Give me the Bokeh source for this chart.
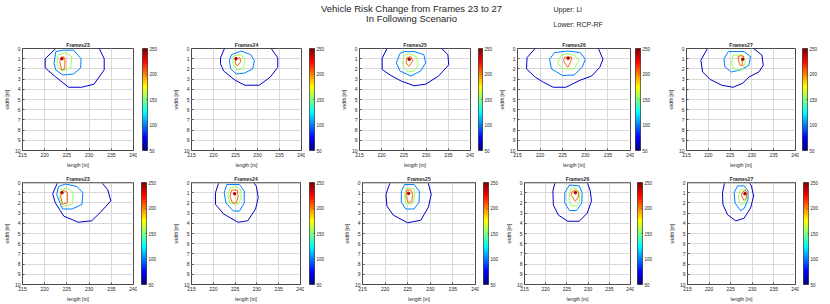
import numpy as np
from bokeh.plotting import figure
from bokeh.layouts import column, row
from bokeh.models import (ColumnDataSource, LinearColorMapper, FixedTicker,
                          Range1d, Label, Span)
from bokeh.transform import linear_cmap
from bokeh.embed import file_html
from bokeh.resources import INLINE

FONT = "Liberation Sans"

# ---------------- data ----------------
TITLE_LINES = ["Vehicle Risk Change from Frames 23 to 27", "In Following Scenario"]
NOTE_LINES = ["Upper: Li", "Lower: RCP-RF"]
FRAME_NAMES = ["Frames23", "Frames24", "Frames25", "Frames26", "Frames27"]
X_TICKS = [215, 220, 225, 230, 235, 240]
Y_TICKS = [0, 1, 2, 3, 4, 5, 6, 7, 8, 9, 10]
CBAR_TICKS = [50, 100, 150, 200, 250]
CBAR_LOW, CBAR_HIGH = 50, 250
LEVELS = [65, 100, 155, 205]     # outer (dark blue), light blue, green, orange
PEAK_LEVEL = 240

# Upper row (Li): contour vertices [length], [width] per level, and peak point
LI_23 = [([222.5, 220.1, 220.1, 222.5, 225.4, 228.3, 231.1, 233.4, 233.4, 232.3],
          [0, 1.0, 1.9, 2.8, 3.8, 3.8, 3.5, 2.1, 1.0, 0]),
         ([222.5, 222.1, 222.5, 224.1, 226.5, 228.1, 228.2, 226.5, 224.3, 222.5],
          [0.3, 1.45, 2.1, 2.6, 2.5, 1.9, 1.0, 0.16, 0.16, 0.3]),
         ([223.0, 222.8, 223.9, 225.9, 226.1, 224.6, 223.0],
          [0.65, 1.6, 2.2, 1.9, 0.8, 0.4, 0.65]),
         ([223.6, 223.4, 223.8, 224.5, 224.6, 224.3, 223.6],
          [0.9, 1.3, 2.1, 2.0, 1.1, 0.8, 0.9])]
LI_23_PEAK = (223.9, 1.0)

LI_24 = [([222.5, 221.6, 221.6, 222.3, 224.9, 227.1, 230.4, 232.9, 234.6, 234.6, 233.1],
          [0, 0.9, 1.5, 2.2, 3.1, 3.6, 3.6, 2.8, 1.85, 0.9, 0]),
         ([224.1, 223.6, 223.9, 225.2, 227.1, 228.9, 229.3, 228.5, 226.3, 224.1],
          [0.6, 1.2, 2.0, 2.5, 2.4, 2.0, 1.2, 0.6, 0.25, 0.6]),
         ([224.6, 224.4, 225.2, 226.7, 227.2, 226.3, 224.6],
          [0.7, 1.45, 2.1, 2.0, 1.2, 0.6, 0.7]),
         ([225.1, 224.9, 225.4, 226.2, 226.0, 225.1],
          [1.0, 1.4, 1.7, 1.3, 0.9, 1.0])]
LI_24_PEAK = (225.1, 1.0)

LI_25 = [([221.2, 220.1, 220.1, 221.9, 224.4, 227.3, 229.9, 232.8, 235.1, 234.9, 233.5],
          [0, 0.95, 2.06, 2.6, 3.2, 3.65, 3.5, 2.7, 1.6, 0.6, 0]),
         ([224.1, 223.3, 224.1, 226.6, 228.8, 229.9, 229.5, 227.3, 225.1, 224.1],
          [0.5, 1.4, 2.2, 2.7, 2.2, 1.4, 0.6, 0.3, 0.3, 0.5]),
         ([225.0, 224.7, 225.9, 227.3, 228.3, 227.8, 226.2, 225.0],
          [0.7, 1.6, 2.3, 2.2, 1.6, 0.8, 0.5, 0.7]),
         ([225.7, 225.5, 226.1, 227.0, 226.6, 225.7],
          [0.9, 1.4, 1.75, 1.25, 0.8, 0.9])]
LI_25_PEAK = (226.2, 1.05)

LI_26 = [([218.9, 217.1, 217.0, 218.9, 220.7, 222.9, 225.7, 228.9, 231.4, 233.2, 233.9, 232.9],
          [0, 0.9, 2.0, 2.8, 3.3, 3.8, 3.8, 3.1, 2.7, 1.85, 1.05, 0]),
         ([223.2, 222.1, 222.5, 225.0, 227.5, 229.3, 230.0, 228.9, 226.1, 223.2],
          [0.4, 1.05, 2.0, 2.65, 2.6, 1.85, 1.05, 0.4, 0.25, 0.4]),
         ([224.6, 223.9, 225.0, 227.5, 228.6, 227.7, 226.1, 224.6],
          [0.7, 1.4, 2.0, 2.0, 1.2, 0.7, 0.5, 0.7]),
         ([225.4, 225.2, 226.1, 226.8, 227.0, 225.4],
          [0.85, 1.25, 1.85, 1.3, 0.85, 0.85])]
LI_26_PEAK = (226.2, 0.95)

LI_27 = [([219.8, 218.3, 218.7, 220.5, 223.1, 225.7, 227.9, 229.3, 231.6, 232.6, 232.3, 230.4],
          [0, 1.15, 2.3, 3.05, 3.6, 3.8, 3.4, 2.8, 2.3, 1.65, 0.65, 0]),
         ([224.6, 223.6, 223.8, 225.3, 227.5, 229.3, 229.7, 228.2, 224.6],
          [0.3, 1.0, 1.8, 2.3, 2.1, 1.65, 0.8, 0.3, 0.3]),
         ([225.7, 225.3, 226.0, 227.9, 228.5, 227.9, 225.7],
          [0.65, 1.5, 2.1, 2.1, 1.3, 0.65, 0.65]),
         ([226.8, 227.0, 227.3, 227.9, 227.7, 228.2, 227.5, 226.8],
          [0.8, 1.3, 1.65, 1.65, 1.15, 0.8, 0.7, 0.8])]
LI_27_PEAK = (227.9, 1.05)

# Lower row (RCP-RF)
RCP_23 = [([222.9, 221.8, 222.4, 224.3, 227.6, 230.6, 232.5, 234.9, 234.2, 232.8],
           [0, 1.1, 2.0, 3.3, 3.9, 3.75, 2.95, 1.8, 0.7, 0]),
          ([223.1, 222.7, 224.0, 226.2, 228.4, 228.6, 227.3, 224.7, 223.1],
           [0.4, 1.2, 2.6, 2.6, 2.15, 1.0, 0.4, 0.15, 0.4]),
          ([223.6, 223.4, 224.0, 226.3, 226.4, 225.1, 223.6],
           [0.7, 1.5, 2.4, 2.1, 0.95, 0.55, 0.7]),
          ([223.8, 223.6, 224.0, 225.1, 225.1, 224.4, 223.8],
           [0.85, 1.35, 2.15, 2.0, 1.0, 0.8, 0.85])]
RCP_23_PEAK = (223.9, 1.0)

RCP_24 = [([221.25, 220.5, 220.5, 222.4, 225.7, 227.9, 229.7, 230.3, 229.9, 229.3],
           [0, 1.0, 2.15, 3.1, 3.9, 3.75, 2.6, 1.5, 0.4, 0]),
          ([223.1, 222.5, 222.9, 224.6, 226.0, 227.1, 227.1, 226.0, 223.1],
           [0.2, 1.0, 2.0, 2.8, 2.8, 2.0, 0.85, 0.2, 0.2]),
          ([223.8, 223.3, 223.8, 225.7, 226.4, 226.25, 225.3, 223.8],
           [0.55, 1.2, 2.0, 2.15, 1.5, 0.7, 0.4, 0.55]),
          ([224.2, 223.8, 224.4, 225.3, 225.7, 225.5, 224.2],
           [0.75, 1.35, 2.0, 2.0, 1.35, 0.75, 0.75])]
RCP_24_PEAK = (224.9, 1.1)

RCP_25 = [([221.1, 220.2, 220.4, 221.8, 225.0, 227.9, 229.6, 230.2, 229.5],
           [0, 1.15, 2.3, 3.2, 3.95, 3.7, 2.4, 1.15, 0]),
          ([224.3, 223.6, 223.6, 224.6, 226.4, 227.5, 227.6, 226.4, 224.3],
           [0.2, 0.85, 1.95, 2.6, 2.6, 1.95, 0.85, 0.2, 0.2]),
          ([224.6, 224.3, 224.6, 226.1, 226.6, 226.3, 224.6],
           [0.6, 1.3, 2.1, 2.1, 1.3, 0.6, 0.6]),
          ([224.8, 224.6, 225.1, 225.9, 226.1, 225.7, 224.8],
           [0.75, 1.3, 2.0, 1.85, 1.17, 0.75, 0.75])]
RCP_25_PEAK = (225.2, 1.07)

RCP_26 = [([222.2, 221.7, 221.8, 223.0, 225.2, 227.9, 229.8, 230.8, 230.5, 229.8],
           [0, 0.8, 2.2, 3.2, 3.8, 3.8, 3.0, 1.8, 0.8, 0]),
          ([225.6, 224.5, 224.5, 225.6, 227.3, 228.5, 228.6, 227.9, 225.6],
           [0.25, 1.0, 2.0, 2.75, 2.75, 2.0, 1.0, 0.33, 0.25]),
          ([226.0, 225.5, 225.8, 227.3, 228.0, 228.0, 227.1, 226.0],
           [0.55, 1.33, 2.2, 2.33, 1.83, 1.0, 0.55, 0.55]),
          ([226.2, 226.0, 227.0, 227.6, 227.8, 227.0, 226.2],
           [0.9, 1.25, 1.83, 1.5, 1.0, 0.73, 0.9])]
RCP_26_PEAK = (227.0, 1.0)

RCP_27 = [([223.6, 223.1, 223.2, 224.3, 226.2, 228.1, 229.6, 230.3, 229.8, 229.3],
           [0, 1.0, 2.17, 3.17, 3.77, 3.5, 2.5, 1.33, 0.33, 0]),
          ([226.6, 225.8, 226.0, 227.3, 228.2, 229.0, 229.0, 228.1, 226.6],
           [0.33, 1.0, 2.0, 2.77, 2.5, 1.67, 0.83, 0.33, 0.33]),
          ([227.1, 226.8, 227.3, 228.4, 228.8, 228.3, 227.1],
           [0.77, 1.5, 2.17, 2.0, 1.17, 0.67, 0.77]),
          ([227.7, 227.5, 228.1, 228.6, 228.8, 228.4, 227.7],
           [0.93, 1.33, 1.77, 1.5, 1.0, 0.77, 0.93])]
RCP_27_PEAK = (228.3, 1.1)

UPPER = [(LI_23, LI_23_PEAK), (LI_24, LI_24_PEAK), (LI_25, LI_25_PEAK),
         (LI_26, LI_26_PEAK), (LI_27, LI_27_PEAK)]
LOWER = [(RCP_23, RCP_23_PEAK), (RCP_24, RCP_24_PEAK), (RCP_25, RCP_25_PEAK),
         (RCP_26, RCP_26_PEAK), (RCP_27, RCP_27_PEAK)]


# ---------------- style ----------------
def jet(n=256):
    cols = []
    for i in range(n):
        t = i / (n - 1)
        r = min(max(1.5 - abs(4 * t - 3), 0), 1)
        g = min(max(1.5 - abs(4 * t - 2), 0), 1)
        b = min(max(1.5 - abs(4 * t - 1), 0), 1)
        cols.append("#%02x%02x%02x" % (round(r * 255), round(g * 255), round(b * 255)))
    return cols


JET = jet()
MAPPER = LinearColorMapper(palette=JET, low=CBAR_LOW, high=CBAR_HIGH)
GRADIENT = np.linspace(CBAR_LOW, CBAR_HIGH, 256).reshape(256, 1)

# per-panel geometry: (main fig width, left border, cbar fig width, cbar left gap)
MAIN_RIGHT = 4
TOP_GEOM = [(137, 19, 32, 5), (136, 18, 32, 4), (137, 18, 21, 4),
            (139, 18, 30, 1), (135, 18, 31, 3)]
BOT_GEOM = [(137, 19, 32, 4), (135, 18, 36, 5), (139, 18, 23, 4),
            (132, 18, 31, 3), (134, 18, 31, 4)]
TEXT_C = "#262626"
EDGE_C = "#4a4a4a"


def make_panel(name, contours, peak, w, left, h, top, bottom, lower_row):
    p = figure(width=w, height=h, x_range=Range1d(215, 240), y_range=Range1d(10, 0),
               output_backend="svg", toolbar_location=None, title=name,
               min_border_left=left, min_border_right=MAIN_RIGHT,
               min_border_top=top, min_border_bottom=bottom)
    p.background_fill_color = "white"
    p.border_fill_color = "white"
    p.outline_line_color = EDGE_C
    p.outline_line_width = 1
    p.title.text_font = FONT
    p.title.text_font_size = "5px"
    p.title.text_font_style = "bold"
    p.title.text_color = TEXT_C
    p.title.align = "center"
    p.title.standoff = 1
    p.title.offset = 0

    p.xaxis.ticker = FixedTicker(ticks=X_TICKS)
    p.yaxis.ticker = FixedTicker(ticks=Y_TICKS)
    p.xaxis.axis_label = "length [m]"
    p.yaxis.axis_label = "width [m]"
    for ax in (p.xaxis, p.yaxis):
        ax.axis_line_color = None
        ax.major_tick_in = 2
        ax.major_tick_out = 0
        ax.major_tick_line_color = EDGE_C
        ax.minor_tick_line_color = None
        ax.major_label_text_font = FONT
        ax.major_label_text_font_size = "5px"
        ax.major_label_text_color = TEXT_C
        ax.major_label_standoff = 2
        ax.axis_label_text_font = FONT
        ax.axis_label_text_font_size = "5px"
        ax.axis_label_text_font_style = "normal"
        ax.axis_label_text_color = TEXT_C
        ax.axis_label_standoff = 2
    p.yaxis.major_label_orientation = "horizontal"
    p.grid.grid_line_color = "#d9d9d9"
    p.grid.grid_line_width = 1
    p.xgrid.ticker = FixedTicker(ticks=X_TICKS)
    p.ygrid.ticker = FixedTicker(ticks=Y_TICKS)

    cmap = linear_cmap("level", JET, CBAR_LOW, CBAR_HIGH)
    src = ColumnDataSource(dict(xs=[c[0] for c in contours],
                                ys=[c[1] for c in contours],
                                level=LEVELS))
    p.multi_line("xs", "ys", source=src, line_color=cmap, line_width=1)
    psrc = ColumnDataSource(dict(x=[peak[0]], y=[peak[1]], level=[PEAK_LEVEL]))
    p.scatter("x", "y", source=psrc, size=2.5, line_color=cmap, fill_color=cmap)

    if lower_row:
        p.add_layout(Span(location=0, dimension="width", line_color="#9a9a9a", line_width=2))
    return p


def make_cbar(w, gap, h, top, bottom):
    c = figure(width=w, height=h, x_range=Range1d(0, 1), y_range=Range1d(CBAR_LOW, CBAR_HIGH),
               output_backend="svg", toolbar_location=None, y_axis_location="right",
               min_border_left=gap, min_border_right=w - gap - 5,
               min_border_top=top, min_border_bottom=bottom)
    c.image(image=[GRADIENT], x=0, y=CBAR_LOW, dw=1, dh=CBAR_HIGH - CBAR_LOW, color_mapper=MAPPER)
    c.xaxis.visible = False
    c.grid.visible = False
    c.outline_line_color = EDGE_C
    c.outline_line_width = 1
    c.border_fill_color = "white"
    ya = c.yaxis[0]
    ya.ticker = FixedTicker(ticks=CBAR_TICKS)
    ya.axis_line_color = None
    ya.major_tick_in = 1
    ya.major_tick_out = 0
    ya.major_tick_line_color = EDGE_C
    ya.minor_tick_line_color = None
    ya.major_label_text_font = FONT
    ya.major_label_text_font_size = "4.5px"
    ya.major_label_text_color = TEXT_C
    ya.major_label_standoff = 2
    return c


# header
HEADER_H = 38
header = figure(width=830, height=HEADER_H, x_range=Range1d(0, 830), y_range=Range1d(0, HEADER_H),
                output_backend="svg", toolbar_location=None, min_border=0)
header.axis.visible = False
header.grid.visible = False
header.outline_line_color = None
header.add_layout(Label(x=411, y=HEADER_H - 2, x_units="screen", y_units="screen", text=TITLE_LINES[0],
                        text_font=FONT, text_font_size="9.5px", text_align="center",
                        text_baseline="top", text_color=TEXT_C))
header.add_layout(Label(x=411, y=HEADER_H - 12, x_units="screen", y_units="screen", text=TITLE_LINES[1],
                        text_font=FONT, text_font_size="9.5px", text_align="center",
                        text_baseline="top", text_color=TEXT_C))
header.add_layout(Label(x=553, y=HEADER_H - 5, x_units="screen", y_units="screen", text=NOTE_LINES[0],
                        text_font=FONT, text_font_size="7px", text_align="left",
                        text_baseline="top", text_color=TEXT_C))
header.add_layout(Label(x=553, y=HEADER_H - 20, x_units="screen", y_units="screen", text=NOTE_LINES[1],
                        text_font=FONT, text_font_size="7px", text_align="left",
                        text_baseline="top", text_color=TEXT_C))

top_items = []
for i in range(5):
    mw, ml, cw, cg = TOP_GEOM[i]
    top_items.append(make_panel(FRAME_NAMES[i], UPPER[i][0], UPPER[i][1], mw, ml, 132, 10, 17, False))
    top_items.append(make_cbar(cw, cg, 132, 10, 17))

bot_items = []
for i in range(5):
    mw, ml, cw, cg = BOT_GEOM[i]
    bot_items.append(make_panel(FRAME_NAMES[i], LOWER[i][0], LOWER[i][1], mw, ml, 134, 12, 17, True))
    bot_items.append(make_cbar(cw, cg, 134, 12, 17))

layout = column(header, row(*top_items, spacing=0), row(*bot_items, spacing=0), spacing=0)

open("out.html", "w").write(file_html(layout, INLINE))
